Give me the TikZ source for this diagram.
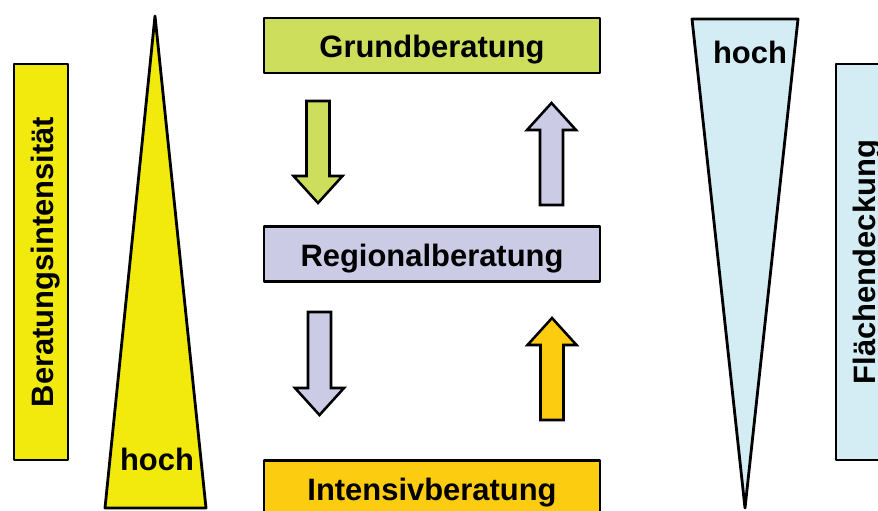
\documentclass[tikz,border=0pt]{standalone}
\usepackage{fontspec}
\setmainfont{Liberation Sans}
\usetikzlibrary{positioning}

\definecolor{gelb}{RGB}{242,234,13}
\definecolor{gruen}{RGB}{205,221,92}
\definecolor{lila}{RGB}{204,203,230}
\definecolor{intensiv}{RGB}{252,204,16}
\definecolor{hellblau}{RGB}{212,236,243}

\tikzset{
  schrift/.style={font=\fontsize{22}{26}\selectfont\bfseries},
  rahmen/.style={draw, line width=2pt, line join=round},
  kasten/.style={rahmen, schrift, minimum width=8.4cm, minimum height=1.375cm, inner sep=0pt, text height=0.625cm, text depth=0pt},
  pfeil/.style={draw, line width=1.8pt, line join=miter}
}

\begin{document}
\begin{tikzpicture}

\useasboundingbox (0,0) rectangle (21.95,12.75);
\clip (0,0) rectangle (21.95,12.75);

% Seitenbalken
\node[kasten, fill=gelb, rotate=90, minimum width=9.9cm, minimum height=1.35cm] (intensitaet) at (1.025,6.2) {Beratungsintensität};
\node[kasten, fill=hellblau, rotate=90, minimum width=9.9cm, minimum height=1.35cm] (deckung) at (21.575,6.2) {Flächendeckung};

% Keile
\draw[rahmen, fill=gelb] (2.625,0.05) -- (3.875,12.35) -- (5.15,0.05) -- cycle;
\draw[rahmen, fill=hellblau] (17.3,12.275) -- (19.95,12.275) -- (18.625,0.05) -- cycle;
\node[schrift] (hochlinks) at (3.925,1.275) {hoch};
\node[schrift] (hochrechts) at (18.75,11.4375) {hoch};

% Stufen
\node[kasten, fill=gruen] (grund) at (10.8,11.6125) {Grundberatung};
\node[kasten, fill=lila, below=3.775cm of grund] (regional) {Regionalberatung};
\node[kasten, fill=intensiv, below=4.4cm of regional] (intensivb) {Intensivberatung};

% Blockpfeile
\draw[pfeil, fill=gruen] (7.6625,10.225) -- ++(0.575,0) -- ++(0,-1.875) -- ++(0.325,0) -- ++(-0.6125,-0.675) -- ++(-0.6125,0.675) -- ++(0.325,0) -- cycle;
\draw[pfeil, fill=lila] (13.5,7.625) -- ++(0.575,0) -- ++(0,1.875) -- ++(0.325,0) -- ++(-0.6125,0.675) -- ++(-0.6125,-0.675) -- ++(0.325,0) -- cycle;
\draw[pfeil, fill=lila] (7.7,4.95) -- ++(0.575,0) -- ++(0,-1.9) -- ++(0.325,0) -- ++(-0.6125,-0.675) -- ++(-0.6125,0.675) -- ++(0.325,0) -- cycle;
\draw[pfeil, fill=intensiv] (13.5125,2.25) -- ++(0.575,0) -- ++(0,1.875) -- ++(0.325,0) -- ++(-0.6125,0.675) -- ++(-0.6125,-0.675) -- ++(0.325,0) -- cycle;

\end{tikzpicture}
\end{document}
